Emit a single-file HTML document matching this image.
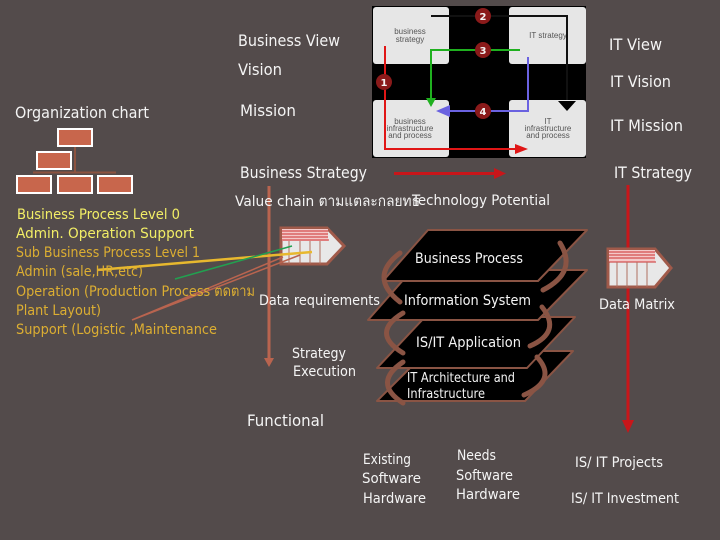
<!DOCTYPE html>
<html lang="en"><head><meta charset="utf-8"><title>Business and IT alignment</title>
<style>
html,body{margin:0;padding:0;width:720px;height:540px;overflow:hidden;background:#534b4b}
svg{display:block}
text{font-family:"DejaVu Sans","Liberation Sans","Noto Sans CJK SC",sans-serif;font-size:16px;fill:#f4f4f4}
.y{fill:#f2ee66}.o{fill:#dcae32}
.s{font-size:14.500px}
.m{font-family:"Liberation Sans",sans-serif;font-size:8px;fill:#555;text-anchor:middle}
</style></head><body>
<svg width="720" height="540" viewBox="0 0 720 540" xmlns="http://www.w3.org/2000/svg">
<rect width="720" height="540" fill="#534b4b"/>

<!-- matrix picture -->
<rect x="372" y="6" width="214" height="152" fill="#000"/>
<g fill="#e6e6e6">
<rect x="373" y="7" width="76" height="57" rx="3"/><rect x="509" y="7" width="77" height="57" rx="3"/>
<rect x="373" y="100" width="76" height="57" rx="3"/><rect x="509" y="100" width="77" height="57" rx="3"/>
</g>
<text class="m" x="410" y="34">business</text><text class="m" x="410" y="42">strategy</text>
<text class="m" x="548" y="38">IT strategy</text>
<text class="m" x="410" y="124">business</text><text class="m" x="410" y="131">infrastructure</text><text class="m" x="410" y="138">and process</text>
<text class="m" x="548" y="124">IT</text><text class="m" x="548" y="131">infrastructure</text><text class="m" x="548" y="138">and process</text>
<g fill="none" stroke-width="2">
<path d="M431,16H567V100" stroke="#111"/>
<path d="M520,50H431V100" stroke="#1fb01f"/>
<path d="M528,57V111H450" stroke="#6a62e0"/>
<path d="M385,46V149H515" stroke="#e01616"/>
</g>
<path d="M558,101H576L567,111z" fill="#000"/>
<path d="M426,98H436L431,107z" fill="#1fb01f"/>
<path d="M450,105V117L436,111z" fill="#6a62e0"/>
<path d="M515,144V154L528,149z" fill="#e01616"/>
<g fill="#8a1a1a"><circle cx="483" cy="16" r="8"/><circle cx="483" cy="50" r="8"/><circle cx="384" cy="82" r="8"/><circle cx="483" cy="111" r="8"/></g>
<g style="font-family:'Liberation Sans',sans-serif">
<text x="483" y="20" style="font-size:10px;font-weight:bold;text-anchor:middle">2</text>
<text x="483" y="54" style="font-size:10px;font-weight:bold;text-anchor:middle">3</text>
<text x="384" y="86" style="font-size:10px;font-weight:bold;text-anchor:middle">1</text>
<text x="483" y="115" style="font-size:10px;font-weight:bold;text-anchor:middle">4</text>
</g>

<!-- org chart -->
<path d="M75,146V172M33,172.500H116" stroke="#8c5340" stroke-width="2" fill="none"/>
<g fill="#c8664c" stroke="#fff" stroke-width="2">
<rect x="58" y="129" width="34" height="17"/>
<rect x="37" y="152" width="34" height="17"/>
<rect x="17" y="176" width="34" height="17"/>
<rect x="58" y="176" width="34" height="17"/>
<rect x="98" y="176" width="34" height="17"/>
</g>

<!-- long arrows -->
<path d="M269,186V358" stroke="#b9644f" stroke-width="3"/>
<path d="M264,358H274L269,367z" fill="#b9644f"/>
<path d="M394,173.500H494" stroke="#c8161a" stroke-width="3"/>
<path d="M494,168V179L506,173.500z" fill="#c8161a"/>
<path d="M628,185V420" stroke="#c8161a" stroke-width="3"/>
<path d="M622,420H634L628,433z" fill="#c8161a"/>

<!-- data boxes -->
<g>
<path d="M281,228H327L344,246L327,264H281z" fill="#e8e8e8" stroke="#a05a4a" stroke-width="3"/>
<rect x="282" y="229" width="46" height="12" fill="#f4c8c8"/>
<path d="M282,231H328M282,234H328M282,237H328M282,240H329" stroke="#cc3030" stroke-width="1"/>
<path d="M289,241V264M300,241V264M310,241V264M320,241V264" stroke="#b0705f" stroke-width="1"/>
</g>
<g>
<path d="M608,249H655L671,268L655,287H608z" fill="#e8e8e8" stroke="#a05a4a" stroke-width="3"/>
<rect x="609" y="250" width="46" height="12" fill="#f4c8c8"/>
<path d="M609,252H655M609,255H655M609,258H655M609,262H656" stroke="#cc3030" stroke-width="1"/>
<path d="M617,262V287M627,262V287M637,262V287M647,262V287" stroke="#b0705f" stroke-width="1"/>
</g>

<!-- layers -->
<g fill="#000" stroke="#8a5444" stroke-width="2" stroke-linejoin="round">
<path d="M427,351H573L525,401H377z"/>
<path d="M425,317H575L527,368H377z"/>
<path d="M412,270H587L538,320H368z"/>
<path d="M428,230H587L538,281H383z"/>
</g>

<!-- curved arrows -->
<g fill="none" stroke="#8a5444" stroke-width="5" stroke-linecap="round">
<path d="M560,243Q578,272 543,290"/>
<path d="M542,307Q562,332 530,346"/>
<path d="M537,357Q558,380 524,395"/>
<path d="M400,253Q368,277 400,302"/>
<path d="M403,313Q370,333 403,353"/>
<path d="M403,362Q372,383 403,403"/>
</g>

<!-- connector lines from process list -->
<path d="M97,270L312,252" stroke="#e8b82e" stroke-width="2.500"/>
<path d="M175,279L292,246" stroke="#22a050" stroke-width="1.500"/>
<path d="M132,320L283,257M132,320L300,255" stroke="#b9644f" stroke-width="1.500"/>

<!-- labels -->
<text x="238" y="46" textLength="102" lengthAdjust="spacingAndGlyphs">Business View</text>
<text x="609" y="50" textLength="53" lengthAdjust="spacingAndGlyphs">IT View</text>
<text x="238" y="75" textLength="44" lengthAdjust="spacingAndGlyphs">Vision</text>
<text x="610" y="87" textLength="61" lengthAdjust="spacingAndGlyphs">IT Vision</text>
<text x="15" y="118" textLength="134" lengthAdjust="spacingAndGlyphs">Organization chart</text>
<text x="240" y="116" textLength="56" lengthAdjust="spacingAndGlyphs">Mission</text>
<text x="610" y="131" textLength="73" lengthAdjust="spacingAndGlyphs">IT Mission</text>
<text x="240" y="178" textLength="127" lengthAdjust="spacingAndGlyphs">Business Strategy</text>
<text x="614" y="178" textLength="78" lengthAdjust="spacingAndGlyphs">IT Strategy</text>
<text class="s" x="235" y="206" textLength="185" lengthAdjust="spacingAndGlyphs">Value chain ตามแตละกลยทธ</text>
<text class="s" x="412" y="205" textLength="138" lengthAdjust="spacingAndGlyphs">Technology Potential</text>
<text class="s" x="415" y="263" textLength="108" lengthAdjust="spacingAndGlyphs">Business Process</text>
<text class="s" x="259" y="305" textLength="121" lengthAdjust="spacingAndGlyphs">Data requirements</text>
<text class="s" x="404" y="305" textLength="127" lengthAdjust="spacingAndGlyphs">Information System</text>
<text class="s" x="599" y="309" textLength="76" lengthAdjust="spacingAndGlyphs">Data Matrix</text>
<text class="s" x="416" y="347" textLength="105" lengthAdjust="spacingAndGlyphs">IS/IT Application</text>
<text class="s" x="292" y="358" textLength="54" lengthAdjust="spacingAndGlyphs">Strategy</text>
<text class="s" x="293" y="376" textLength="63" lengthAdjust="spacingAndGlyphs">Execution</text>
<text x="407" y="382" style="font-size:13px" textLength="108" lengthAdjust="spacingAndGlyphs">IT Architecture and</text>
<text x="407" y="398" style="font-size:13px" textLength="78" lengthAdjust="spacingAndGlyphs">Infrastructure</text>
<text x="247" y="426" textLength="77" lengthAdjust="spacingAndGlyphs">Functional</text>
<text class="s" x="363" y="464" textLength="48" lengthAdjust="spacingAndGlyphs">Existing</text>
<text class="s" x="362" y="483" textLength="59" lengthAdjust="spacingAndGlyphs">Software</text>
<text class="s" x="363" y="503" textLength="63" lengthAdjust="spacingAndGlyphs">Hardware</text>
<text class="s" x="457" y="460" textLength="39" lengthAdjust="spacingAndGlyphs">Needs</text>
<text class="s" x="456" y="480" textLength="57" lengthAdjust="spacingAndGlyphs">Software</text>
<text class="s" x="456" y="499" textLength="64" lengthAdjust="spacingAndGlyphs">Hardware</text>
<text class="s" x="575" y="467" textLength="88" lengthAdjust="spacingAndGlyphs">IS/ IT Projects</text>
<text class="s" x="571" y="503" textLength="108" lengthAdjust="spacingAndGlyphs">IS/ IT Investment</text>

<text class="y s" x="17" y="219" textLength="163" lengthAdjust="spacingAndGlyphs">Business Process  Level 0</text>
<text class="y s" x="16" y="238" textLength="178" lengthAdjust="spacingAndGlyphs">Admin. Operation  Support</text>
<text class="o s" x="16" y="257" textLength="184" lengthAdjust="spacingAndGlyphs">Sub Business Process Level 1</text>
<text class="o s" x="16" y="276" textLength="127" lengthAdjust="spacingAndGlyphs">Admin (sale,HR,etc)</text>
<text class="o s" x="16" y="296" textLength="239" lengthAdjust="spacingAndGlyphs">Operation (Production Process ตดตาม</text>
<text class="o s" x="16" y="315" textLength="85" lengthAdjust="spacingAndGlyphs">Plant Layout)</text>
<text class="o s" x="16" y="334" textLength="201" lengthAdjust="spacingAndGlyphs">Support (Logistic ,Maintenance</text>
</svg>
</body></html>
